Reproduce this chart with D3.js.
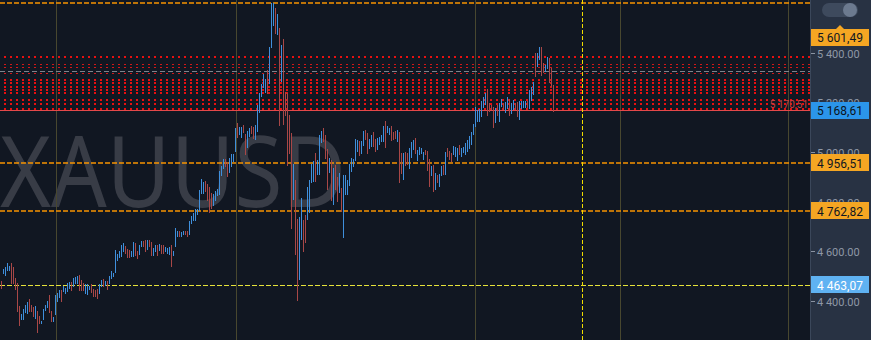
<!DOCTYPE html>
<html>
<head>
<meta charset="utf-8">
<script src="https://cdn.jsdelivr.net/npm/d3@7"></script>
<style>
  body { margin: 0; background: #111722; overflow: hidden; }
  svg { display: block; }
</style>
</head>
<body>
<div id="graph"></div>
<script>
// bar data (one bar every 2px, oldest first)
var highs = [
  4480,4528,4536,4552,4540,4552,4536,4492,4472,4379,4346,4367,4383,4395,4407,4383,4375,4379,4358,4338,
  4318,4367,4383,4399,4423,4358,4334,4423,4431,4443,4443,4459,4451,4472,4476,4476,4492,4496,4500,4504,
  4484,4472,4467,4467,4459,4467,4447,4443,4447,4467,4484,4488,4480,4480,4500,4520,4512,4605,4589,4601,
  4625,4633,4621,4609,4605,4601,4637,4633,4601,4625,4641,4641,4645,4645,4645,4637,4613,4625,4625,4629,
  4625,4625,4617,4613,4617,4625,4601,4694,4681,4681,4677,4681,4681,4681,4722,4742,4754,4770,4770,4847,
  4891,4879,4883,4871,4859,4835,4831,4843,4851,4924,4944,4972,4972,4960,4976,4992,4992,5097,5117,5101,
  5101,5109,5073,5085,5097,5105,5101,5109,5190,5239,5275,5315,5295,5331,5424,5602,5602,5582,5557,5501,
  5432,5457,5243,5239,5150,5077,4952,4887,4730,4738,4815,4726,4746,4859,4887,4952,4964,4996,4968,5069,
  5085,5097,5069,5012,4976,4968,4936,4948,4899,4916,4855,4908,4908,4887,4952,4976,4972,5053,5049,5045,
  5045,5085,5089,5077,5053,5069,5081,5053,5057,5061,5069,5105,5126,5105,5097,5105,5081,5085,5089,5081,
  4996,4996,5000,4996,5017,5041,5049,5057,5008,5021,5017,5000,5008,5004,4972,4944,4948,4916,4908,4912,
  4944,4948,5000,5017,5004,4996,5025,5021,5017,5029,5017,5021,5037,5049,5065,5081,5113,5182,5170,5174,
  5206,5222,5239,5255,5198,5190,5182,5178,5190,5198,5214,5198,5202,5222,5214,5198,5210,5198,5202,5206,
  5206,5206,5206,5206,5251,5263,5283,5400,5400,5424,5424,5360,5352,5384,5380,5339,5271
];
var lows = [
  4447,4508,4500,4520,4520,4467,4467,4443,4354,4298,4322,4322,4350,4346,4354,4354,4334,4326,4270,4306,
  4306,4322,4358,4371,4350,4314,4314,4342,4395,4411,4395,4435,4427,4435,4447,4439,4455,4467,4467,4439,
  4439,4439,4427,4423,4443,4431,4415,4415,4407,4427,4455,4455,4459,4443,4467,4488,4496,4512,4560,4572,
  4576,4597,4589,4572,4572,4576,4576,4581,4568,4585,4617,4617,4597,4605,4617,4581,4581,4597,4581,4601,
  4589,4589,4597,4589,4585,4536,4581,4617,4657,4657,4657,4665,4665,4657,4665,4710,4722,4722,4746,4762,
  4831,4831,4839,4803,4754,4770,4782,4803,4823,4827,4903,4932,4940,4899,4916,4940,4960,5000,5057,5069,
  5057,5077,4988,5017,5061,5073,5053,5049,5081,5158,5222,5259,5239,5235,5275,5420,5509,5477,5473,5105,
  5283,5109,5146,4944,4992,4690,4807,4585,4399,4484,4645,4597,4633,4726,4754,4875,4879,4879,4908,4908,
  5037,5041,4972,4847,4916,4803,4786,4847,4799,4835,4758,4653,4827,4827,4863,4920,4940,4964,5000,4984,
  4992,5025,5049,4992,5012,5021,5021,5000,5008,5029,5041,5041,5017,5077,5069,5045,5049,5053,5041,4875,
  4912,4887,4944,4948,4932,4976,5008,4992,4964,4988,4992,4968,4988,4924,4859,4903,4839,4847,4875,4859,
  4903,4908,4908,4980,4968,4960,4988,4980,4964,4988,4980,4996,4988,5000,5012,5029,5069,5101,5121,5121,
  5142,5178,5190,5146,5162,5170,5097,5117,5146,5121,5182,5170,5158,5174,5146,5154,5170,5170,5142,5130,
  5174,5178,5178,5178,5174,5206,5230,5303,5344,5372,5307,5319,5323,5335,5279,5263,5162
];
// 1 = up bar (blue), 0 = down bar (red)
var ups = [
  0,1,1,1,1,0,0,0,0,0,1,1,1,1,0,0,0,1,0,0,
  1,1,1,1,0,0,1,1,1,1,0,1,1,1,1,0,1,1,1,0,
  0,0,1,1,1,0,0,0,0,1,1,0,1,0,1,1,1,1,1,1,
  1,1,0,0,0,1,1,0,0,1,1,0,0,1,0,0,1,1,0,1,
  0,0,1,1,1,0,1,1,1,0,1,1,0,0,1,1,1,1,1,1,
  1,1,0,0,0,0,1,1,1,1,1,1,0,0,1,1,1,1,0,1,
  1,0,0,1,1,0,0,1,1,1,1,1,1,0,1,1,1,0,1,0,
  1,0,0,0,0,0,1,0,0,1,1,0,0,1,1,1,1,0,1,1,
  1,0,0,0,1,0,1,0,0,1,0,1,1,1,1,1,1,1,1,0,
  1,1,0,0,1,1,0,0,1,1,1,1,0,1,1,0,0,0,1,0,
  0,1,0,0,1,1,1,0,1,1,1,1,0,0,0,1,0,1,0,1,
  1,0,1,0,0,0,1,1,1,0,1,1,1,1,1,1,1,1,1,1,
  1,1,1,0,0,0,0,1,0,1,1,0,1,1,0,1,1,0,0,1,
  1,1,1,0,1,1,1,0,1,1,0,0,1,1,0,0,0
];

// levels drawn across the chart
var orangeLevels = [5601.49, 4956.51, 4762.82];
var alertLevel = 4463.07;
var lastPrice = 5168.61;
var redLevel = 5170.51;
var dottedLevels = [5384, 5291, 5278, 5264, 5251, 5237, 5210, 5194, 5173];
var thinDottedLevels = [5356, 5344, 5318];
var greyLevel = 5326;
var priceTicks = [4400, 4600, 4800, 5000, 5200, 5400];
// session separators and the yellow cursor, as bar indexes
var separators = [27, 117, 237, 309, 393];
var cursorIndex = 290.5;

var W = 871, H = 340, plotW = 810;

var x = d3.scaleLinear().domain([0, 404]).range([1.5, 809.5]);
var y = d3.scaleLinear().domain([4241, 5613.6]).range([H, 0]);

function fmt(v, dec) {
  var s = v.toFixed(2).split(".");
  return s[0].replace(/\B(?=(\d{3})+(?!\d))/g, " ") + dec + s[1];
}
function px(v) { return Math.round(v) + 0.5; }

var svg = d3.select("#graph").append("svg")
    .attr("width", W)
    .attr("height", H);

svg.append("rect").attr("width", W).attr("height", H).attr("fill", "#111722");

// big symbol watermark
svg.append("text")
    .attr("x", 0)
    .attr("y", 207)
    .attr("textLength", 346)
    .attr("lengthAdjust", "spacingAndGlyphs")
    .style("font-family", "'Noto Sans', 'Open Sans', sans-serif")
    .style("font-size", "98px")
    .style("fill", "#383c46")
    .text("XAUUSD");

// session separators
svg.selectAll(".sep")
  .data(separators)
  .enter().append("line")
    .attr("x1", function(d) { return px(x(d)); })
    .attr("x2", function(d) { return px(x(d)); })
    .attr("y1", 0).attr("y2", H)
    .attr("stroke", "#48472f")
    .attr("stroke-width", 1);

// red dotted band
svg.selectAll(".dot")
  .data(dottedLevels)
  .enter().append("line")
    .attr("x1", 4).attr("x2", plotW)
    .attr("y1", function(d) { return Math.round(y(d)); })
    .attr("y2", function(d) { return Math.round(y(d)); })
    .attr("stroke", "#e81010")
    .attr("stroke-width", 2)
    .attr("stroke-dasharray", "2,4");

svg.selectAll(".tdot")
  .data(thinDottedLevels)
  .enter().append("line")
    .attr("x1", 4).attr("x2", plotW)
    .attr("y1", function(d) { return px(y(d)); })
    .attr("y2", function(d) { return px(y(d)); })
    .attr("stroke", "#d01818")
    .attr("stroke-width", 1)
    .attr("stroke-dasharray", "2,4");

svg.append("line")
    .attr("x1", 0).attr("x2", plotW)
    .attr("y1", px(y(greyLevel))).attr("y2", px(y(greyLevel)))
    .attr("stroke", "#7d838c")
    .attr("stroke-dasharray", "5,3");

svg.append("line")
    .attr("x1", 0).attr("x2", plotW)
    .attr("y1", px(y(redLevel))).attr("y2", px(y(redLevel)))
    .attr("stroke", "#e5484a")
    .attr("stroke-width", 1.2);

svg.append("text")
    .attr("x", 808)
    .attr("y", px(y(redLevel)) - 3)
    .style("text-anchor", "end")
    .style("font-family", "Roboto, sans-serif")
    .style("font-size", "10px")
    .style("fill", "#c94040")
    .text(fmt(redLevel, ","));

// orange and yellow levels
svg.selectAll(".lvl")
  .data(orangeLevels)
  .enter().append("line")
    .attr("x1", 0).attr("x2", plotW)
    .attr("y1", function(d) { return Math.round(y(d)); })
    .attr("y2", function(d) { return Math.round(y(d)); })
    .attr("stroke", "#f79400")
    .attr("stroke-width", 1.6)
    .attr("stroke-dasharray", "5,2");

svg.append("line")
    .attr("x1", 0).attr("x2", plotW)
    .attr("y1", px(y(alertLevel))).attr("y2", px(y(alertLevel)))
    .attr("stroke", "#e6e23a")
    .attr("stroke-dasharray", "5,2");

// the bars
var idx = d3.range(highs.length);
svg.selectAll(".bar")
  .data(idx)
  .enter().append("rect")
    .attr("x", function(i) { return Math.floor(x(i)); })
    .attr("width", 1)
    .attr("y", function(i) { return Math.round(y(highs[i])); })
    .attr("height", function(i) { return Math.max(1, Math.round(y(lows[i])) - Math.round(y(highs[i]))); })
    .attr("fill", function(i) { return ups[i] ? "#3f8fdc" : "#a84747"; });

// yellow cursor
svg.append("line")
    .attr("x1", px(x(cursorIndex))).attr("x2", px(x(cursorIndex)))
    .attr("y1", 0).attr("y2", H)
    .attr("stroke", "#f0dc00")
    .attr("stroke-dasharray", "4,2");

// price scale panel
var axisG = svg.append("g");
axisG.append("rect")
    .attr("x", plotW).attr("y", 0)
    .attr("width", W - plotW).attr("height", H)
    .attr("fill", "#283243");
axisG.append("line")
    .attr("x1", plotW + 0.5).attr("x2", plotW + 0.5)
    .attr("y1", 0).attr("y2", H)
    .attr("stroke", "#3b475a");

axisG.selectAll(".tick")
  .data(priceTicks)
  .enter().append("g")
    .each(function(d) {
      var g = d3.select(this);
      var yy = px(y(d));
      g.append("line")
          .attr("x1", plotW + 1).attr("x2", plotW + 5)
          .attr("y1", yy).attr("y2", yy)
          .attr("stroke", "#8a93a2");
      g.append("text")
          .attr("x", 817).attr("y", yy + 4)
          .style("font-family", "Roboto, sans-serif")
          .style("font-size", "11px")
          .style("fill", "#8f98a6")
          .text(fmt(d, "."));
    });

// toggle button
axisG.append("rect")
    .attr("x", 822).attr("y", 3)
    .attr("width", 36).attr("height", 14).attr("rx", 7)
    .attr("fill", "#3e4a5d");
axisG.append("circle")
    .attr("cx", 850).attr("cy", 10).attr("r", 7)
    .attr("fill", "#6c7a8f");

// price labels
var labels = [
  { v: orangeLevels[0], bg: "#f5a623", fg: "#111722" },
  { v: lastPrice, bg: "#2b95ea", fg: "#0c1420" },
  { v: orangeLevels[1], bg: "#f5a623", fg: "#111722" },
  { v: orangeLevels[2], bg: "#f5a623", fg: "#111722" },
  { v: alertLevel, bg: "#5fb2f2", fg: "#ffffff" }
];
labels.forEach(function(l) {
  var yy = Math.max(y(l.v), 37);
  if (yy !== y(l.v)) {
    axisG.append("path")
        .attr("d", "M836," + (yy - 8) + "L840," + (yy - 12) + "L844," + (yy - 8) + "Z")
        .attr("fill", l.bg);
  }
  axisG.append("rect")
      .attr("x", 811).attr("y", Math.round(yy - 8.5))
      .attr("width", 58).attr("height", 17)
      .attr("fill", l.bg);
  axisG.append("text")
      .attr("x", 840).attr("y", Math.round(yy) + 4.5)
      .style("text-anchor", "middle")
      .style("font-family", "Roboto, sans-serif")
      .style("font-size", "12px")
      .style("fill", l.fg)
      .text(fmt(l.v, ","));
});
</script>
</body>
</html>
